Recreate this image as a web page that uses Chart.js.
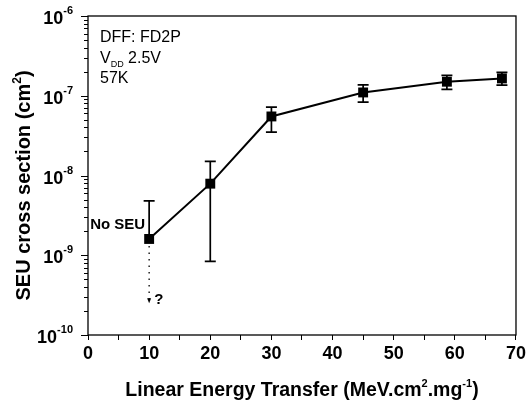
<!DOCTYPE html>
<html>
<head>
<meta charset="utf-8">
<script src="https://cdn.jsdelivr.net/npm/chart.js@4.4.1/dist/chart.umd.min.js"></script>
<style>
  html, body { margin: 0; padding: 0; background: #fff; }
  canvas { display: block; }
</style>
</head>
<body>
<canvas id="seuChart" width="529" height="406"></canvas>
<script>
// LET values (MeV.cm2/mg) and measured SEU cross sections (cm2)
const letValues = [10, 20, 30, 45, 58.7, 67.7];
const crossSection = [1.6e-9, 7.9e-9, 5.5e-8, 1.1e-7, 1.5e-7, 1.65e-7];
const errUpper = [4.8e-9, 1.5e-8, 7.2e-8, 1.37e-7, 1.8e-7, 1.96e-7];
const errLower = [null, 8.4e-10, 3.5e-8, 8.3e-8, 1.2e-7, 1.36e-7];

// "No SEU" point: dotted arrow going down to an unknown value
const noSeuIndex = 0;
const noSeuArrowTo = 2.5e-10;

const xTicks = [0, 10, 20, 30, 40, 50, 60, 70];
const yDecades = [-10, -9, -8, -7, -6];

const FONT = '"Liberation Sans", Arial, sans-serif';

const errorBarPlugin = {
    id: 'errorBars',
    beforeDatasetsDraw(chart) {
        const { ctx } = chart;
        const x = chart.scales.x, y = chart.scales.y;
        ctx.save();
        ctx.strokeStyle = '#000';
        ctx.lineWidth = 1.7;
        letValues.forEach((v, i) => {
            const px = x.getPixelForValue(v);
            const top = y.getPixelForValue(errUpper[i]);
            const bot = errLower[i] !== null ? y.getPixelForValue(errLower[i]) : y.getPixelForValue(crossSection[i]);
            ctx.beginPath();
            ctx.moveTo(px, top);
            ctx.lineTo(px, bot);
            ctx.moveTo(px - 5.5, top);
            ctx.lineTo(px + 5.5, top);
            if (errLower[i] !== null) {
                ctx.moveTo(px - 5.5, bot);
                ctx.lineTo(px + 5.5, bot);
            }
            ctx.stroke();
        });

        // dotted arrow below the "No SEU" point
        const ax = x.getPixelForValue(letValues[noSeuIndex]);
        const ay0 = y.getPixelForValue(crossSection[noSeuIndex]) + 7;
        const ay1 = y.getPixelForValue(noSeuArrowTo);
        ctx.setLineDash([1.5, 5]);
        ctx.lineWidth = 1.3;
        ctx.beginPath();
        ctx.moveTo(ax, ay0);
        ctx.lineTo(ax, ay1 - 4);
        ctx.stroke();
        ctx.setLineDash([]);
        ctx.fillStyle = '#000';
        ctx.beginPath();
        ctx.moveTo(ax - 2, ay1 - 5);
        ctx.lineTo(ax + 2, ay1 - 5);
        ctx.lineTo(ax, ay1);
        ctx.closePath();
        ctx.fill();
        ctx.font = 'bold 15px ' + FONT;
        ctx.textBaseline = 'alphabetic';
        ctx.textAlign = 'left';
        ctx.fillText('?', ax + 5, ay1 + 1);
        ctx.restore();
    }
};

const framePlugin = {
    id: 'frame',
    afterDraw(chart) {
        const { ctx, chartArea: a } = chart;
        const y = chart.scales.y;
        ctx.save();
        ctx.strokeStyle = '#000';
        ctx.fillStyle = '#000';
        ctx.lineWidth = 1.3;
        ctx.strokeRect(a.left, a.top, a.right - a.left, a.bottom - a.top);

        // log ticks on the left axis (outward)
        ctx.lineWidth = 1;
        ctx.beginPath();
        yDecades.forEach((d, k) => {
            const py = Math.round(y.getPixelForValue(Math.pow(10, d))) + 0.5;
            ctx.moveTo(a.left - 7, py);
            ctx.lineTo(a.left, py);
            if (k < yDecades.length - 1) {
                for (let m = 2; m <= 9; m++) {
                    const my = Math.round(y.getPixelForValue(m * Math.pow(10, d))) + 0.5;
                    ctx.moveTo(a.left - 4, my);
                    ctx.lineTo(a.left, my);
                }
            }
        });
        ctx.stroke();

        // decade labels 10^n
        yDecades.forEach(d => {
            const py = y.getPixelForValue(Math.pow(10, d));
            const sup = String(d);
            ctx.font = 'bold 11px ' + FONT;
            const supW = ctx.measureText(sup).width;
            ctx.font = 'bold 18px ' + FONT;
            const baseW = ctx.measureText('10').width;
            const right = 73;
            ctx.textAlign = 'left';
            ctx.textBaseline = 'alphabetic';
            ctx.fillText('10', right - supW - baseW, py + 8);
            ctx.font = 'bold 11px ' + FONT;
            ctx.fillText(sup, right - supW, py - 2);
        });

        // y axis title
        ctx.save();
        ctx.translate(30, (a.top + a.bottom) / 2 + 10);
        ctx.rotate(-Math.PI / 2);
        const t1 = 'SEU cross section (cm';
        ctx.font = 'bold 20px ' + FONT;
        const w1 = ctx.measureText(t1).width;
        ctx.font = 'bold 12px ' + FONT;
        const w2 = ctx.measureText('2').width;
        ctx.font = 'bold 20px ' + FONT;
        const w3 = ctx.measureText(')').width;
        const sx = -(w1 + w2 + w3) / 2;
        ctx.textBaseline = 'alphabetic';
        ctx.textAlign = 'left';
        ctx.fillText(t1, sx, 0);
        ctx.font = 'bold 12px ' + FONT;
        ctx.fillText('2', sx + w1, -9);
        ctx.font = 'bold 20px ' + FONT;
        ctx.fillText(')', sx + w1 + w2, 0);
        ctx.restore();

        // x axis title with superscripts
        const parts = [
            ['Linear Energy Transfer (MeV.cm', false],
            ['2', true],
            ['.mg', false],
            ['-1', true],
            [')', false]
        ];
        let total = 0;
        parts.forEach(p => {
            ctx.font = (p[1] ? 'bold 11px ' : 'bold 19.5px ') + FONT;
            total += ctx.measureText(p[0]).width;
        });
        let cx = (a.left + a.right) / 2 - total / 2;
        ctx.textAlign = 'left';
        ctx.textBaseline = 'alphabetic';
        parts.forEach(p => {
            ctx.font = (p[1] ? 'bold 11px ' : 'bold 19.5px ') + FONT;
            ctx.fillText(p[0], cx, p[1] ? 387 : 396);
            cx += ctx.measureText(p[0]).width;
        });

        // sample annotation
        ctx.font = '16px ' + FONT;
        ctx.fillText('DFF: FD2P', a.left + 12, a.top + 26);
        ctx.fillText('V', a.left + 12, a.top + 47);
        const vW = ctx.measureText('V').width;
        ctx.font = '9px ' + FONT;
        ctx.fillText('DD', a.left + 12 + vW, a.top + 51);
        const ddW = ctx.measureText('DD').width;
        ctx.font = '16px ' + FONT;
        ctx.fillText(' 2.5V', a.left + 12 + vW + ddW, a.top + 47);
        ctx.fillText('57K', a.left + 12, a.top + 67);

        // "No SEU" label next to the first point
        const xs = chart.scales.x;
        ctx.font = 'bold 15px ' + FONT;
        ctx.textAlign = 'right';
        ctx.textBaseline = 'middle';
        ctx.fillText('No SEU', xs.getPixelForValue(letValues[noSeuIndex]) - 4,
            y.getPixelForValue(crossSection[noSeuIndex]) - 14);
        ctx.restore();
    }
};

const ctx = document.getElementById('seuChart').getContext('2d');
new Chart(ctx, {
    type: 'scatter',
    data: {
        datasets: [{
            label: 'DFF FD2P',
            data: letValues.map((v, i) => ({ x: v, y: crossSection[i] })),
            showLine: true,
            borderColor: '#000',
            borderWidth: 2,
            backgroundColor: '#000',
            pointStyle: 'rect',
            pointRadius: 7,
            pointHoverRadius: 7,
            pointBorderWidth: 0
        }]
    },
    options: {
        responsive: false,
        animation: false,
        events: [],
        layout: { padding: { top: 16, right: 9, left: 0, bottom: 0 } },
        plugins: {
            legend: { display: false },
            tooltip: { enabled: false }
        },
        scales: {
            x: {
                type: 'linear',
                min: 0,
                max: 70,
                afterFit(scale) { scale.height = 71; },
                afterBuildTicks(scale) {
                    const t = [];
                    for (let v = 0; v <= 70; v += 5) t.push({ value: v });
                    scale.ticks = t;
                },
                ticks: {
                    autoSkip: false,
                    maxRotation: 0,
                    padding: 3,
                    color: '#000',
                    font: { family: FONT, size: 18, weight: 'bold' },
                    callback: v => (xTicks.includes(v) ? String(v) : '')
                },
                grid: {
                    drawOnChartArea: false,
                    drawTicks: true,
                    tickLength: 5,
                    color: '#000',
                    lineWidth: 1
                },
                border: { display: false }
            },
            y: {
                type: 'logarithmic',
                min: 1e-10,
                max: 1e-6,
                afterFit(scale) { scale.width = 88; },
                ticks: { display: false },
                grid: { display: false },
                border: { display: false }
            }
        }
    },
    plugins: [errorBarPlugin, framePlugin]
});
</script>
</body>
</html>
